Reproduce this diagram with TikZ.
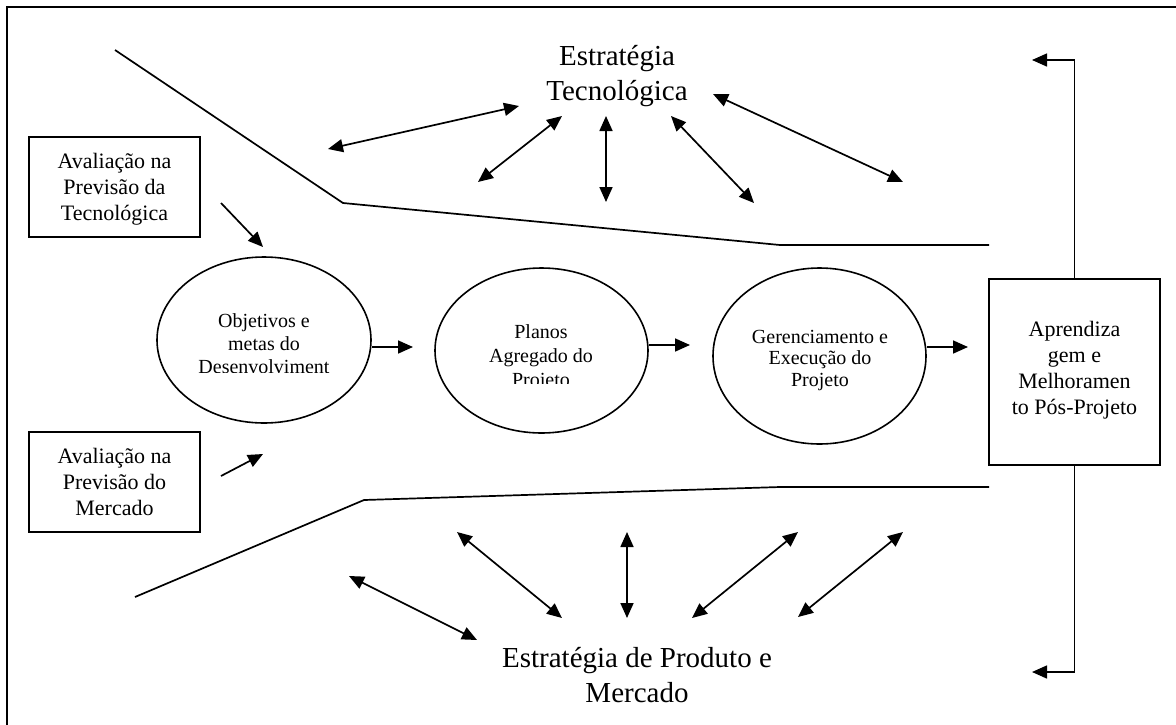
\documentclass[tikz,border=0pt]{standalone}
\usepackage{fontspec}
\setmainfont{Liberation Serif}
\usetikzlibrary{arrows.meta,shapes.geometric}
\begin{document}
\begin{tikzpicture}[x=1pt,y=-1pt,
  tip/.tip={Triangle[length=15pt,width=13pt]},
  arr/.style={line width=1.7pt,-tip},
  darr/.style={line width=1.7pt,tip-tip},
  ell/.style={draw,ellipse,line width=1.6pt,inner sep=0pt},
  box/.style={draw,rectangle,line width=1.6pt,inner sep=0pt},
  funnel/.style={line width=1.7pt},
  bigtxt/.style={font=\fontsize{29}{35}\selectfont,align=center,anchor=base,inner sep=0pt},
  boxtxt/.style={font=\fontsize{22}{26}\selectfont,align=center,anchor=base,inner sep=0pt},
  elltxt/.style={font=\fontsize{20}{23}\selectfont,align=center,anchor=base,inner sep=0pt}]
\useasboundingbox (0,0) rectangle (1176,724);
\fill[white] (0,0) rectangle (1176,724);
% frame
\draw[line width=2.2pt] (7,730) -- (7,7) -- (1182,7);

% funnel lines
\draw[funnel] (115,50) -- (343,203) -- (780,245) -- (989,245);
\draw[funnel] (135,597) -- (364,500) -- (780,487) -- (989,487);

% titles (anchor = baseline of last line)
\node[bigtxt] (tech) at (617,100) {Estratégia\\Tecnológica};
\node[bigtxt] (prod) at (637,702) {Estratégia de Produto e\\Mercado};

% left boxes
\node[box,minimum width=171pt,minimum height=100pt] (b1) at (114.5,187) {};
\node[boxtxt] (b1t) at (114.5,220) {Avaliação na\\Previsão da\\Tecnológica};
\node[box,minimum width=171pt,minimum height=100pt] (b2) at (114.5,482) {};
\node[boxtxt] (b2t) at (114.5,515) {Avaliação na\\Previsão do\\Mercado};

% right box
\node[box,minimum width=171pt,minimum height=186pt] (rb) at (1074.5,372) {};
\node[boxtxt,font=\fontsize{22}{25.7}\selectfont] (rbt) at (1074.5,414) {Aprendiza\\gem e\\Melhoramen\\to Pós-Projeto};

% ellipses
\node[ell,minimum width=214pt,minimum height=166pt] (e1) at (264,340) {};
\node[ell,minimum width=213pt,minimum height=165pt] (e2) at (541.5,350.5) {};
\node[ell,minimum width=213pt,minimum height=176pt] (e3) at (819.5,356) {};

\begin{scope}
  \clip (160,290) rectangle (370,372);
  \node[elltxt] (e1t) at (264,373) {Objetivos e\\metas do\\Desenvolviment};
\end{scope}
\begin{scope}
  \clip (440,300) rectangle (645,383);
  \node[elltxt,font=\fontsize{20}{24}\selectfont] (e2t) at (541,386) {Planos\\Agregado do\\Projeto};
\end{scope}
\node[elltxt,font=\fontsize{20}{21.5}\selectfont] (e3t) at (820,386) {Gerenciamento e\\Execução do\\Projeto};

% flow arrows
\coordinate (a1) at (413,347);
\coordinate (a2) at (690,345);
\coordinate (a3) at (968,347);
\draw[arr] ([yshift=-7pt]e1.east) -- (a1);
\draw[arr] ([yshift=5.5pt]e2.east) -- (a2);
\draw[arr] ([yshift=9pt]e3.east) -- (a3);

% input arrows
\coordinate (i1s) at (221,203); \coordinate (i1e) at (263,247);
\coordinate (i2s) at (221,476); \coordinate (i2e) at (263,454);
\draw[arr] (i1s) -- (i1e);
\draw[arr] (i2s) -- (i2e);

% feedback
\coordinate (fbt) at (1032,60);
\coordinate (fbb) at (1032,672);
\draw[line width=1.5pt,-tip] (rb.north) |- (fbt);
\draw[line width=1.5pt,-tip] (rb.south) |- (fbb);

% top double arrows
\coordinate (t1a) at (328,149); \coordinate (t1b) at (519,106);
\coordinate (t2a) at (478,182); \coordinate (t2b) at (562,116);
\coordinate (t3a) at (606,202); \coordinate (t3b) at (606,116);
\coordinate (t4a) at (754,203); \coordinate (t4b) at (671,116);
\coordinate (t5a) at (903,182); \coordinate (t5b) at (713,94);
\draw[darr] (t1a) -- (t1b);
\draw[darr] (t2a) -- (t2b);
\draw[darr] (t3a) -- (t3b);
\draw[darr] (t4a) -- (t4b);
\draw[darr] (t5a) -- (t5b);

% bottom double arrows
\coordinate (u1a) at (349,576); \coordinate (u1b) at (477,640);
\coordinate (u2a) at (457,532); \coordinate (u2b) at (562,618);
\coordinate (u3a) at (627,532); \coordinate (u3b) at (627,618);
\coordinate (u4a) at (798,532); \coordinate (u4b) at (692,618);
\coordinate (u5a) at (903,532); \coordinate (u5b) at (798,617);
\draw[darr] (u1a) -- (u1b);
\draw[darr] (u2a) -- (u2b);
\draw[darr] (u3a) -- (u3b);
\draw[darr] (u4a) -- (u4b);
\draw[darr] (u5a) -- (u5b);
\end{tikzpicture}
\end{document}
